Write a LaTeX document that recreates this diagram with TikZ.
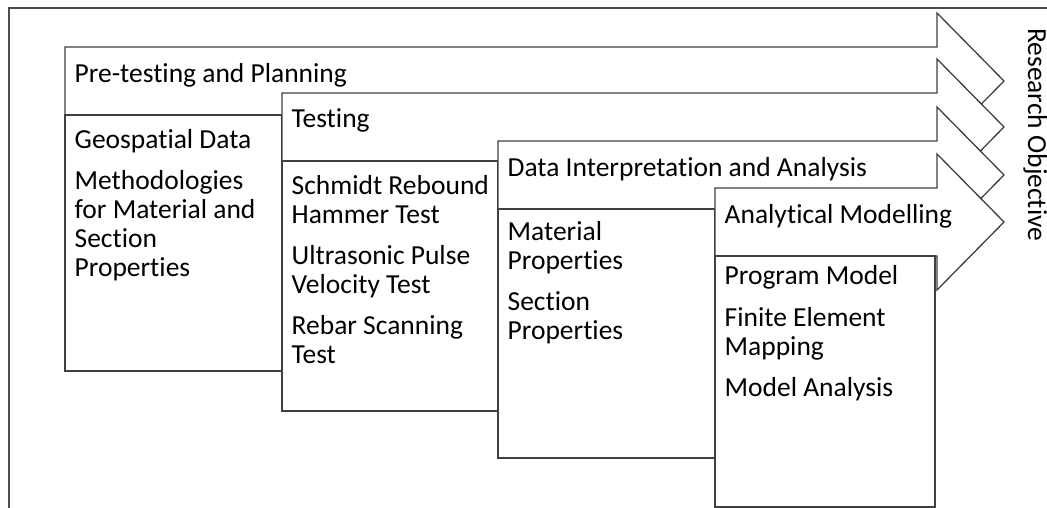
\documentclass[tikz,border=0pt]{standalone}
\usepackage{fontspec}
\setmainfont{Carlito}[Ligatures=CommonOff]

\begin{document}
\begin{tikzpicture}[x=1pt,y=-1pt,
    stage/.style={draw=black!75,line width=1.3pt,fill=white,line join=miter},
    lbl/.style={anchor=base west,inner sep=0pt,font=\fontsize{27.5}{29}\selectfont},
    item/.style={lbl,align=left}]
  \useasboundingbox (0,0) rectangle (1047,508);
  \draw[black!70,line width=1.3pt] (9,508) -- (9,8) -- (1047,8);

  % the item nodes sit on the baseline of their last line
  \draw[stage] (65,47) -- (937,47) -- ++(0,-34) -- ++(67,68) -- ++(-67,68)
    -- ++(0,-34) -- (65,115) -- cycle
    (65,47) ++(9,36) node (pp) [lbl] {Pre-testing and Planning};
  \draw[stage] (65,115) rectangle ++(217,256) ++(-208,-95)
    node (gd) [item] {Geospatial Data\\[12pt]Methodologies\\for Material and\\Section\\Properties};

  \draw[stage] (282,93) -- (937,93) -- ++(0,-34) -- ++(67,68) -- ++(-67,68)
    -- ++(0,-34) -- (282,161) -- cycle
    (282,93) ++(9,35) node (tst) [lbl] {Testing};
  \draw[stage] (282,161) rectangle ++(216,250) ++(-207,-48)
    node (sr) [item] {Schmidt Rebound\\Hammer Test\\[12pt]Ultrasonic Pulse\\Velocity Test\\[12pt]Rebar Scanning\\Test};

  \draw[stage] (498,141) -- (937,141) -- ++(0,-34) -- ++(67,68) -- ++(-67,68)
    -- ++(0,-34) -- (498,209) -- cycle
    (498,141) ++(9,35) node (dia) [lbl] {Data Interpretation and Analysis};
  \draw[stage] (498,209) rectangle ++(217,249) ++(-208,-119)
    node (mp) [item] {Material\\Properties\\[12pt]Section\\Properties};

  \draw[stage] (715,188) -- (937,188) -- ++(0,-34) -- ++(67,68) -- ++(-67,68)
    -- ++(0,-34) -- (715,256) -- cycle
    (715,188) ++(9,35) node (am) [lbl] {Analytical Modelling};
  \draw[stage] (715,256) rectangle ++(220,251) ++(-211,-111)
    node (pm) [item] {Program Model\\[13pt]Finite Element\\Mapping\\[12pt]Model Analysis};

  \node (ro) [lbl,rotate=-90] at (1028,28) {Research Objective};
\end{tikzpicture}
\end{document}
